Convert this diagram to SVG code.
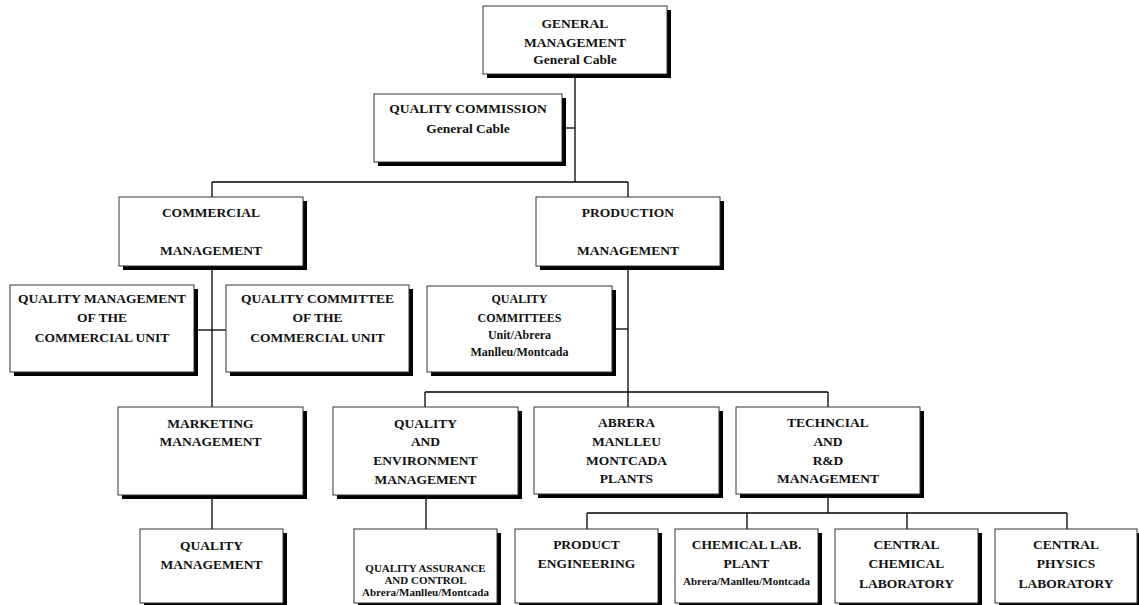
<svg xmlns="http://www.w3.org/2000/svg" width="1139" height="605" viewBox="0 0 1139 605">
<defs>
<style>
.box{fill:#fff;stroke:#333;stroke-width:1}
.sh{fill:#000}
text{font-family:"Liberation Serif","Times New Roman",serif;font-weight:bold;fill:#111;text-anchor:middle}
.t{font-size:13.5px}
.m{font-size:12px}
.s{font-size:11px}
.c line{stroke:#000;stroke-width:1.3}
</style>
</defs>
<rect width="1139" height="605" fill="#fff"/>
<g class="c" id="connectors">
<line x1="575" y1="74" x2="575" y2="182"/>
<line x1="562" y1="128" x2="575" y2="128"/>
<line x1="212" y1="182" x2="628" y2="182"/>
<line x1="212" y1="182" x2="212" y2="197"/>
<line x1="628" y1="182" x2="628" y2="197"/>
<line x1="212" y1="266" x2="212" y2="407"/>
<line x1="194" y1="330" x2="226" y2="330"/>
<line x1="628" y1="266" x2="628" y2="407"/>
<line x1="612" y1="329" x2="628" y2="329"/>
<line x1="425" y1="392" x2="828" y2="392"/>
<line x1="425" y1="392" x2="425" y2="407"/>
<line x1="828" y1="392" x2="828" y2="407"/>
<line x1="212" y1="495" x2="212" y2="529"/>
<line x1="426" y1="495" x2="426" y2="529"/>
<line x1="828" y1="494" x2="828" y2="513"/>
<line x1="587" y1="513" x2="1067" y2="513"/>
<line x1="587" y1="513" x2="587" y2="529"/>
<line x1="747" y1="513" x2="747" y2="529"/>
<line x1="907" y1="513" x2="907" y2="529"/>
<line x1="1067" y1="513" x2="1067" y2="529"/>
</g>
<g id="general">
<rect class="sh" x="487" y="10" width="184" height="68"/>
<rect class="box" x="483" y="6" width="184" height="68"/>
<text class="t" x="575" y="28">GENERAL</text>
<text class="t" x="575" y="46.5">MANAGEMENT</text>
<text class="t" x="575" y="64">General Cable</text>
</g>
<g id="commission">
<rect class="sh" x="378" y="98" width="188" height="68"/>
<rect class="box" x="374" y="94" width="188" height="68"/>
<text class="t" x="468" y="113">QUALITY COMMISSION</text>
<text class="t" x="468" y="133">General Cable</text>
</g>
<g id="commercial">
<rect class="sh" x="123" y="201" width="184" height="69"/>
<rect class="box" x="119" y="197" width="184" height="69"/>
<text class="t" x="211" y="217">COMMERCIAL</text>
<text class="t" x="211" y="255">MANAGEMENT</text>
</g>
<g id="production">
<rect class="sh" x="540" y="201" width="184" height="69"/>
<rect class="box" x="536" y="197" width="184" height="69"/>
<text class="t" x="628" y="217">PRODUCTION</text>
<text class="t" x="628" y="255">MANAGEMENT</text>
</g>
<g id="qm-commercial">
<rect class="sh" x="14" y="289" width="184" height="87"/>
<rect class="box" x="10" y="285" width="184" height="87"/>
<text class="t" x="102" y="303">QUALITY MANAGEMENT</text>
<text class="t" x="102" y="322">OF THE</text>
<text class="t" x="102" y="342">COMMERCIAL UNIT</text>
</g>
<g id="qc-commercial">
<rect class="sh" x="230" y="289" width="183" height="87"/>
<rect class="box" x="226" y="285" width="183" height="87"/>
<text class="t" x="317.5" y="303">QUALITY COMMITTEE</text>
<text class="t" x="317.5" y="322">OF THE</text>
<text class="t" x="317.5" y="342">COMMERCIAL UNIT</text>
</g>
<g id="qc-units">
<rect class="sh" x="431" y="290" width="185" height="86"/>
<rect class="box" x="427" y="286" width="185" height="86"/>
<text class="m" x="519.5" y="303">QUALITY</text>
<text class="m" x="519.5" y="322">COMMITTEES</text>
<text class="m" x="519.5" y="338.5">Unit/Abrera</text>
<text class="m" x="519.5" y="355.5">Manlleu/Montcada</text>
</g>
<g id="marketing">
<rect class="sh" x="122" y="411" width="185" height="88"/>
<rect class="box" x="118" y="407" width="185" height="88"/>
<text class="t" x="210.5" y="427.5">MARKETING</text>
<text class="t" x="210.5" y="446">MANAGEMENT</text>
</g>
<g id="quality-env">
<rect class="sh" x="337" y="411" width="185" height="88"/>
<rect class="box" x="333" y="407" width="185" height="88"/>
<text class="t" x="425.5" y="427.5">QUALITY</text>
<text class="t" x="425.5" y="446">AND</text>
<text class="t" x="425.5" y="465">ENVIRONMENT</text>
<text class="t" x="425.5" y="484">MANAGEMENT</text>
</g>
<g id="plants">
<rect class="sh" x="538" y="411" width="185" height="87"/>
<rect class="box" x="534" y="407" width="185" height="87"/>
<text class="t" x="626.5" y="427">ABRERA</text>
<text class="t" x="626.5" y="446">MANLLEU</text>
<text class="t" x="626.5" y="464.5">MONTCADA</text>
<text class="t" x="626.5" y="483">PLANTS</text>
</g>
<g id="technical">
<rect class="sh" x="740" y="411" width="184" height="87"/>
<rect class="box" x="736" y="407" width="184" height="87"/>
<text class="t" x="828" y="427">TECHNCIAL</text>
<text class="t" x="828" y="446">AND</text>
<text class="t" x="828" y="464.5">R&amp;D</text>
<text class="t" x="828" y="483">MANAGEMENT</text>
</g>
<g id="quality-mgmt">
<rect class="sh" x="144" y="533" width="143" height="74"/>
<rect class="box" x="140" y="529" width="143" height="74"/>
<text class="t" x="211.5" y="550">QUALITY</text>
<text class="t" x="211.5" y="569">MANAGEMENT</text>
</g>
<g id="qa-control">
<rect class="sh" x="358" y="533" width="143" height="74"/>
<rect class="box" x="354" y="529" width="143" height="74"/>
<text class="s" x="425.5" y="572">QUALITY ASSURANCE</text>
<text class="s" x="425.5" y="584">AND CONTROL</text>
<text class="s" x="425.5" y="595.5">Abrera/Manlleu/Montcada</text>
</g>
<g id="product-eng">
<rect class="sh" x="519" y="533" width="143" height="74"/>
<rect class="box" x="515" y="529" width="143" height="74"/>
<text class="t" x="586.5" y="549">PRODUCT</text>
<text class="t" x="586.5" y="568">ENGINEERING</text>
</g>
<g id="chem-lab-plant">
<rect class="sh" x="679" y="533" width="143" height="74"/>
<rect class="box" x="675" y="529" width="143" height="74"/>
<text class="t" x="746.5" y="549">CHEMICAL LAB.</text>
<text class="t" x="746.5" y="568">PLANT</text>
<text class="s" x="746.5" y="585">Abrera/Manlleu/Montcada</text>
</g>
<g id="central-chem">
<rect class="sh" x="839" y="533" width="143" height="74"/>
<rect class="box" x="835" y="529" width="143" height="74"/>
<text class="t" x="906.5" y="549">CENTRAL</text>
<text class="t" x="906.5" y="568">CHEMICAL</text>
<text class="t" x="906.5" y="587.5">LABORATORY</text>
</g>
<g id="central-phys">
<rect class="sh" x="999" y="533" width="142" height="74"/>
<rect class="box" x="995" y="529" width="142" height="74"/>
<text class="t" x="1066" y="549">CENTRAL</text>
<text class="t" x="1066" y="568">PHYSICS</text>
<text class="t" x="1066" y="587.5">LABORATORY</text>
</g>
</svg>
